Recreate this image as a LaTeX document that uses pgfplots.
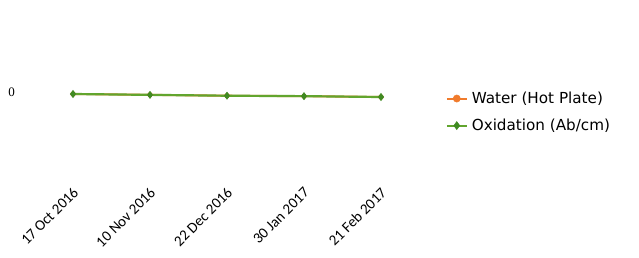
\documentclass[border=0pt]{standalone}
\usepackage{pgfplots}
\pgfplotsset{compat=1.18}
\usepackage{fontspec}
\setmainfont{Liberation Serif}
\newfontfamily\tickfont{Carlito}
\newfontfamily\legfont{DejaVu Sans}
\definecolor{orangeS}{HTML}{F07B2C}
\definecolor{greenL}{HTML}{62A52E}
\definecolor{greenM}{HTML}{3F8A22}
\begin{document}
\begin{tikzpicture}[x=1pt,y=1pt]
\path[use as bounding box] (0,0) rectangle (639,257);
\begin{axis}[
  at={(34.5pt,77pt)}, anchor=south west,
  scale only axis, width=385pt, height=172pt,
  xmin=-0.5, xmax=4.5, ymin=-1, ymax=1,
  axis line style={draw=none},
  xtick={0,1,2,3,4},
  xticklabels={17 Oct 2016,10 Nov 2016,22 Dec 2016,30 Jan 2017,21 Feb 2017},
  x tick label style={font=\tickfont\fontsize{15}{17}\selectfont, yshift=-5pt, xshift=-1pt, rotate=45, anchor=north east, inner sep=1pt},
  ytick={0}, yticklabels={0},
  y tick label style={font=\fontsize{13}{15}\selectfont, xshift=-16pt, yshift=1.5pt},
  major tick length=0pt,
  legend cell align=left,
  legend style={draw=none, fill=none, at={(1.06,0.395)}, anchor=west,
    font=\legfont\fontsize{15.2}{17}\selectfont, row sep=10pt,
    nodes={inner xsep=4pt}},
  legend image code/.code={
    \draw[#1, line width=2pt, mark=none] (0pt,0pt) -- (20pt,0pt);
    \draw[#1, line width=0.5pt] plot[only marks] coordinates {(10pt,0pt)};
  },
]
\addlegendimage{orangeS, mark=*, mark size=3.6pt, mark options={fill=orangeS, draw=orangeS}}
\addlegendentry{Water (Hot Plate)}
\addlegendimage{greenL, mark=diamond*, mark size=4pt, mark options={fill=greenM, draw=greenM}}
\addlegendentry{Oxidation (Ab/cm)}
\addplot[forget plot, orangeS, line width=2pt, mark=*, mark size=2.4pt, mark options={fill=orangeS, draw=orangeS, line width=0.5pt}]
  coordinates {(0,0) (1,-0.01) (2,-0.02) (3,-0.025) (4,-0.035)};
\addplot[forget plot, greenL, line width=2.2pt, mark=diamond*, mark size=3.6pt, mark options={fill=greenM, draw=greenM, line width=0.5pt}]
  coordinates {(0,0) (1,-0.01) (2,-0.02) (3,-0.025) (4,-0.035)};
\end{axis}
\end{tikzpicture}
\end{document}
